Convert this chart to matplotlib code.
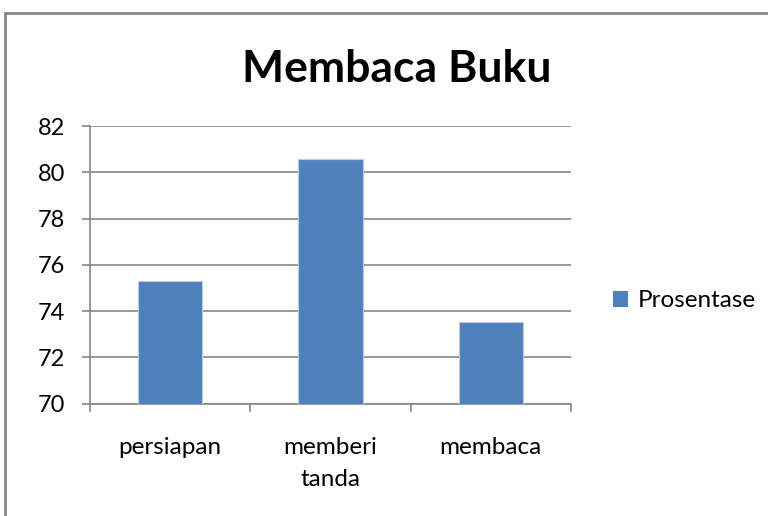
import matplotlib
matplotlib.use("Agg")
import matplotlib.pyplot as plt
from matplotlib.patches import Rectangle, Patch
import numpy as np

categories = ["persiapan", "memberi\ntanda", "membaca"]
prosentase = [75.32, 80.59, 73.54]
series_name = "Prosentase"
title = "Membaca Buku"
y_ticks = [70, 72, 74, 76, 78, 80, 82]

plt.rcParams['font.family'] = ['Lato', 'DejaVu Sans']

bar_color = "#4F81BD"
grid_color = "#868686"

fig = plt.figure(figsize=(7.68, 5.16), dpi=100)
ax = fig.add_axes([0.1172, 0.2176, 0.6263, 0.5382])

# chart border (Excel chart area), cut at right and bottom
fig.patches.append(Rectangle((5 / 768, -0.05), 1.1, 1 - 13 / 516 + 0.05,
                             transform=fig.transFigure, fill=False,
                             edgecolor="#868686", linewidth=2))

x = np.arange(len(categories))
ax.bar(x, prosentase, width=0.4, color=bar_color, edgecolor="#B9CDE5",
       linewidth=0.8, zorder=3)

ax.set_xlim(-0.5, len(categories) - 0.5)
ax.set_ylim(y_ticks[0], y_ticks[-1])
ax.set_yticks(y_ticks)
ax.set_yticklabels([str(t) for t in y_ticks], fontsize=17)
ax.yaxis.grid(True, color=grid_color, linewidth=1.2, zorder=0)

ax.set_xticks(x)
ax.set_xticklabels(categories, fontsize=17.5, linespacing=1.65)
ax.set_xticks(np.arange(len(categories) + 1) - 0.5, minor=True)
ax.tick_params(axis='x', which='major', length=0, pad=24)
ax.tick_params(axis='x', which='minor', length=6, width=1.2, color=grid_color)
ax.tick_params(axis='y', length=6, width=1.2, color=grid_color, pad=12)

for s in ["top", "right"]:
    ax.spines[s].set_visible(False)
for s in ["left", "bottom"]:
    ax.spines[s].set_color(grid_color)
    ax.spines[s].set_linewidth(1.2)

fig.text(397 / 768, 1 - 69 / 516, title, fontsize=32, fontweight="bold",
         ha="center", va="center")

ax.legend(handles=[Patch(facecolor=bar_color, label=series_name)],
          loc="center left", bbox_to_anchor=(1.042, 0.37), frameon=False,
          fontsize=17.5, handlelength=0.6, handleheight=0.6, handletextpad=0.4)

fig.savefig("out.png", dpi=100)
